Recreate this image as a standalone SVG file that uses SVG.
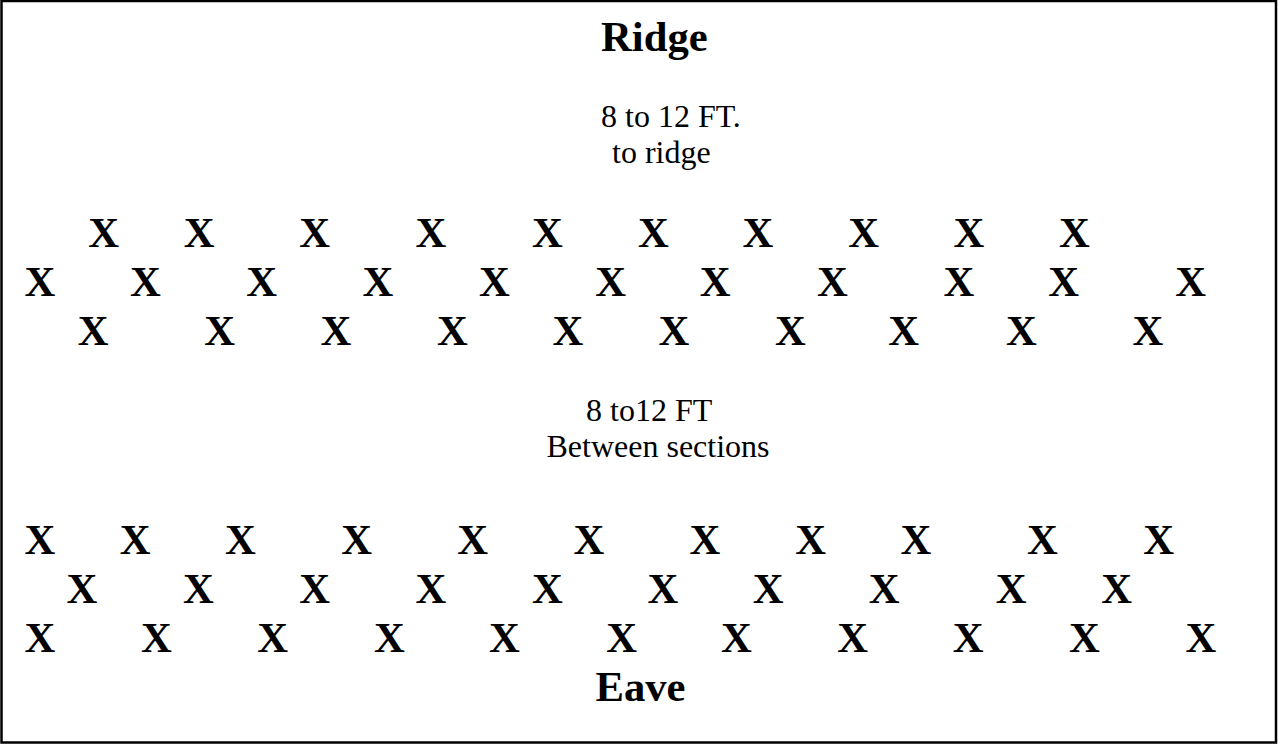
<svg xmlns="http://www.w3.org/2000/svg" width="1278" height="744" viewBox="0 0 1278 744">
<style>
.t{font-family:"Liberation Serif","Times New Roman",serif;fill:#000}
.h{font-size:42.67px;font-weight:bold}
.s{font-size:32px}
.x{font-family:"Liberation Serif","Times New Roman",serif;font-size:42.67px;font-weight:bold;fill:#000}
</style>
<rect x="0" y="0" width="1278" height="744" fill="#fff"/>
<rect x="1.5" y="1" width="1274.5" height="741.5" fill="none" stroke="#000" stroke-width="2.5"/>
<g id="title-ridge"><text class="t h" x="601" y="51">Ridge</text></g>
<g id="label-ridge"><text class="t s" x="601" y="127">8 to 12 FT.</text><text class="t s" x="612" y="163">to ridge</text></g>
<g id="upper-rows" class="x">
<text y="246.5"><tspan x="88.3">X</tspan><tspan x="183.8">X</tspan><tspan x="299.3">X</tspan><tspan x="415.6">X</tspan><tspan x="532">X</tspan><tspan x="638">X</tspan><tspan x="742.6">X</tspan><tspan x="848.3">X</tspan><tspan x="953.6">X</tspan><tspan x="1058.9">X</tspan></text>
<text y="295.5"><tspan x="24.6">X</tspan><tspan x="129.9">X</tspan><tspan x="246.2">X</tspan><tspan x="362.6">X</tspan><tspan x="478.9">X</tspan><tspan x="595.2">X</tspan><tspan x="699.7">X</tspan><tspan x="816.9">X</tspan><tspan x="943.4">X</tspan><tspan x="1048.3">X</tspan><tspan x="1175.3">X</tspan></text>
<text y="345"><tspan x="77.7">X</tspan><tspan x="204.2">X</tspan><tspan x="320.5">X</tspan><tspan x="436.9">X</tspan><tspan x="552.4">X</tspan><tspan x="658.5">X</tspan><tspan x="774.9">X</tspan><tspan x="888.3">X</tspan><tspan x="1005.9">X</tspan><tspan x="1132.4">X</tspan></text>
</g>
<g id="label-sections"><text class="t s" x="586" y="421">8 to12 FT</text><text class="t s" x="546.5" y="456.7">Between sections</text></g>
<g id="lower-rows" class="x">
<text y="554"><tspan x="24.6">X</tspan><tspan x="119.7">X</tspan><tspan x="225">X</tspan><tspan x="341.3">X</tspan><tspan x="457.3">X</tspan><tspan x="573.6">X</tspan><tspan x="689.5">X</tspan><tspan x="795.3">X</tspan><tspan x="900.6">X</tspan><tspan x="1027.1">X</tspan><tspan x="1143.3">X</tspan></text>
<text y="602.5"><tspan x="66.6">X</tspan><tspan x="183">X</tspan><tspan x="299.3">X</tspan><tspan x="415.6">X</tspan><tspan x="532">X</tspan><tspan x="647.5">X</tspan><tspan x="752.8">X</tspan><tspan x="868.7">X</tspan><tspan x="995.7">X</tspan><tspan x="1101.3">X</tspan></text>
<text y="651.5"><tspan x="24.6">X</tspan><tspan x="140.9">X</tspan><tspan x="257.3">X</tspan><tspan x="374">X</tspan><tspan x="489.1">X</tspan><tspan x="606.3">X</tspan><tspan x="721">X</tspan><tspan x="837.3">X</tspan><tspan x="952.8">X</tspan><tspan x="1069.1">X</tspan><tspan x="1185.5">X</tspan></text>
</g>
<g id="title-eave"><text class="t h" x="595.5" y="701">Eave</text></g>
</svg>
